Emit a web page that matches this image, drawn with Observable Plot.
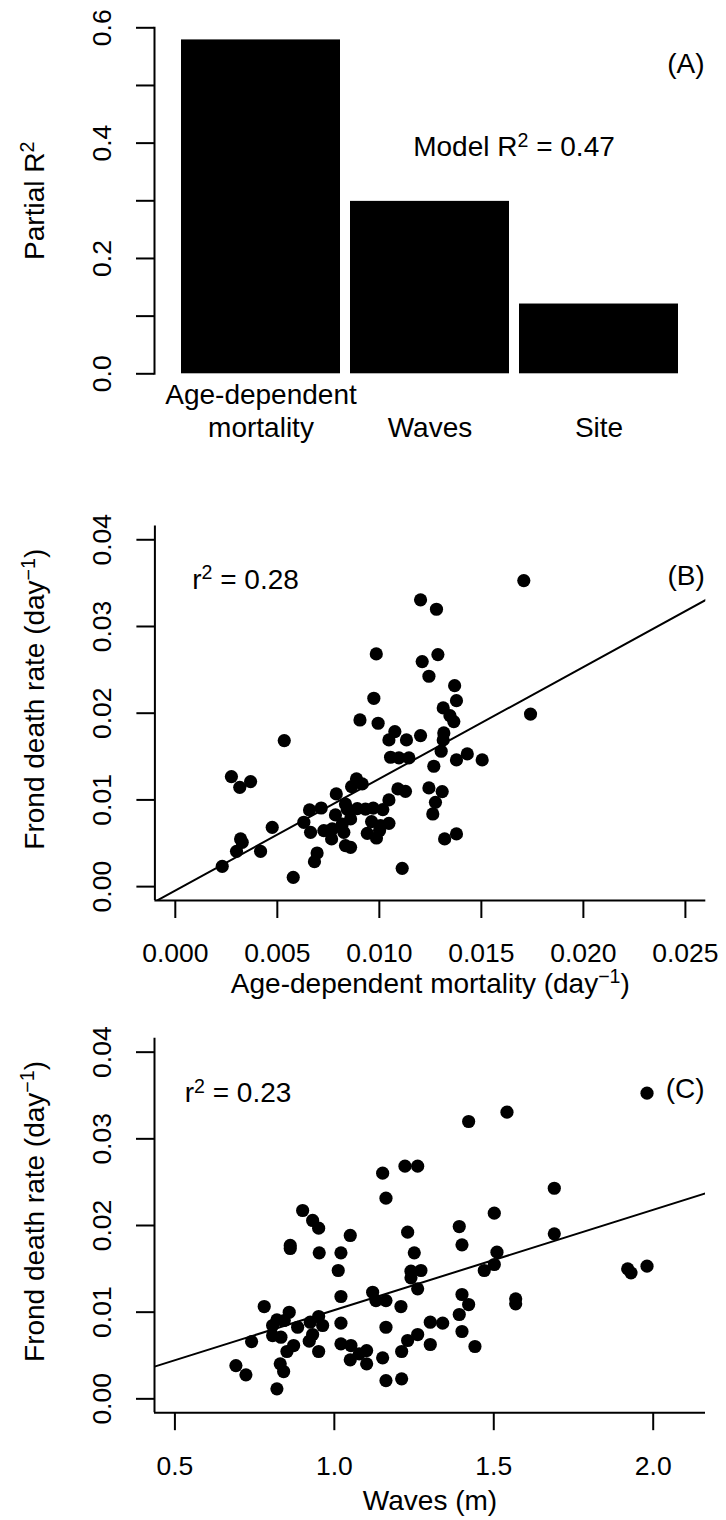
<!DOCTYPE html>
<html>
<head>
<meta charset="utf-8">
<script src="https://cdn.jsdelivr.net/npm/d3@7"></script>
<script src="https://cdn.jsdelivr.net/npm/@observablehq/plot@0.6"></script>
<style>
  body { margin: 0; background: #fff; }
  #chart svg { display: block; }
</style>
</head>
<body>
<div id="chart"></div>
<script>
// (A) partial R2 of each predictor
const predictors = ["Age-dependent\nmortality", "Waves", "Site"];
const partialR2 = [0.579, 0.299, 0.121];
const modelR2 = 0.47;
const ticksA = [0, 0.1, 0.2, 0.3, 0.4, 0.5, 0.6];

// (B) frond death rate vs age-dependent mortality
const ageMortality = [
  0.01202, 0.01280, 0.00985, 0.01210, 0.01287, 0.01243, 0.00973, 0.00905, 0.00994, 0.00534,
  0.01076, 0.01047, 0.01133, 0.01202, 0.01313, 0.01346, 0.01365, 0.01316, 0.01313, 0.01303,
  0.01055, 0.01096, 0.01145, 0.01267, 0.00275, 0.00316, 0.00369, 0.00888, 0.00864, 0.00916,
  0.01091, 0.01128, 0.01243, 0.01308, 0.01275, 0.01262, 0.01320, 0.01378, 0.00789, 0.01047,
  0.00658, 0.00715, 0.00834, 0.00843, 0.00892, 0.00932, 0.00970, 0.01017, 0.00785, 0.00859,
  0.00630, 0.00475, 0.00663, 0.00728, 0.00769, 0.00818, 0.00826, 0.00962, 0.01006, 0.01047,
  0.00941, 0.00986, 0.01001, 0.00766, 0.00320, 0.00328, 0.00300, 0.00418, 0.00834, 0.00859,
  0.00695, 0.00682, 0.00230, 0.00578, 0.01112, 0.01708, 0.01369, 0.01378, 0.01741, 0.01378,
  0.01431, 0.01504
];
const deathRateB = [
  0.03307, 0.03199, 0.02684, 0.02595, 0.02676, 0.02426, 0.02172, 0.01922, 0.01884, 0.01684,
  0.01788, 0.01692, 0.01692, 0.01742, 0.02061, 0.01972, 0.01903, 0.01773, 0.01692, 0.01561,
  0.01492, 0.01484, 0.01484, 0.01388, 0.01269, 0.01145, 0.01211, 0.01242, 0.01153, 0.01184,
  0.01127, 0.01099, 0.01138, 0.01096, 0.00972, 0.00838, 0.00550, 0.00608, 0.01069, 0.01000,
  0.00884, 0.00907, 0.00953, 0.00890, 0.00900, 0.00893, 0.00905, 0.00888, 0.00827, 0.00781,
  0.00742, 0.00684, 0.00626, 0.00646, 0.00665, 0.00722, 0.00626, 0.00750, 0.00704, 0.00730,
  0.00615, 0.00561, 0.00646, 0.00550, 0.00550, 0.00511, 0.00407, 0.00407, 0.00473, 0.00453,
  0.00388, 0.00288, 0.00234, 0.00107, 0.00211, 0.03529, 0.02318, 0.02145, 0.01990, 0.01461,
  0.01530, 0.01461
];
const fitB = [-0.00045, 1.289]; // intercept, slope
const r2B = 0.28;
const ticksBx = [0, 0.005, 0.01, 0.015, 0.02, 0.025];
const ticksRate = [0, 0.01, 0.02, 0.03, 0.04];

// (C) frond death rate vs waves
const waves = [
  1.1515, 1.2215, 1.2613, 1.1619, 0.9006, 0.9319, 0.9508, 1.0499, 1.2299, 0.8617,
  0.8617, 0.9526, 1.0207, 1.2507, 1.0122, 1.2403, 1.2716, 1.2403, 1.2613, 1.0207,
  1.1201, 1.1305, 1.1619, 1.2089, 0.7801, 0.8585, 0.8199, 0.8429, 0.8064, 0.8849,
  0.9244, 0.9508, 0.9633, 1.0207, 1.1619, 1.3009, 1.3397, 0.8064, 0.8325, 0.7405,
  0.9319, 0.9213, 0.8723, 0.8513, 0.9508, 1.0207, 1.0521, 1.1013, 1.0781, 1.0499,
  1.1013, 1.1515, 1.2111, 1.2299, 1.2613, 1.3009, 0.6913, 0.7227, 0.8303, 0.8410,
  0.8199, 1.1619, 1.2111, 1.9806, 1.5414, 1.4212, 1.6898, 1.5016, 1.3918, 1.4003,
  1.5100, 1.6898, 1.5016, 1.4702, 1.9200, 1.9304, 1.9806, 1.4003, 1.4212, 1.5687,
  1.5687, 1.3918, 1.4003, 1.4410
];
const deathRateC = [
  0.02604, 0.02685, 0.02685, 0.02315, 0.02173, 0.02058, 0.01969, 0.01885, 0.01923, 0.01770,
  0.01735, 0.01685, 0.01685, 0.01685, 0.01481, 0.01473, 0.01481, 0.01396, 0.01269, 0.01181,
  0.01230, 0.01134, 0.01134, 0.01065, 0.01065, 0.00999, 0.00912, 0.00904, 0.00846, 0.00826,
  0.00884, 0.00950, 0.00846, 0.00873, 0.00826, 0.00884, 0.00873, 0.00730, 0.00711, 0.00661,
  0.00742, 0.00665, 0.00615, 0.00546, 0.00546, 0.00635, 0.00615, 0.00557, 0.00519, 0.00450,
  0.00404, 0.00473, 0.00546, 0.00673, 0.00742, 0.00627, 0.00384, 0.00277, 0.00404, 0.00315,
  0.00115, 0.00211, 0.00231, 0.03527, 0.03308, 0.03200, 0.02430, 0.02142, 0.01988, 0.01777,
  0.01692, 0.01904, 0.01550, 0.01481, 0.01500, 0.01454, 0.01531, 0.01204, 0.01088, 0.01154,
  0.01096, 0.00973, 0.00777, 0.00604
];
const fitC = [-0.00133, 0.01157];
const r2C = 0.23;
const ticksCx = [0.5, 1.0, 1.5, 2.0];

// axis extents (R style: limits padded by 4%)
const domainBx = [-0.001, 0.026];
const domainCx = [0.436, 2.164];
const domainRate = [-0.0016, 0.0416];

const font = "'Liberation Sans', Arial, Helvetica, sans-serif";
const fs = 28;

// rotated y tick labels, like R
const yTicks = (ticks, fmt) => Plot.axisY(ticks, {
  tickSize: 18, tickPadding: 26, tickFormat: fmt, tickRotate: -90,
  textAnchor: "middle", lineAnchor: "bottom", fontSize: 26.5, strokeWidth: 2, label: null
});
const xTicks = (ticks, fmt) => Plot.axisX(ticks, {
  tickSize: 18, tickPadding: 25, tickFormat: fmt, fontSize: 26.5, strokeWidth: 2, label: null
});
const yLabel = (txt, dy) => Plot.text([txt], {
  text: d => d, frameAnchor: "left", rotate: -90, textAnchor: "middle",
  lineAnchor: "bottom", dx: -111, dy, fontSize: fs
});
const xLabel = (txt, dy) => Plot.text([txt], {
  text: d => d, frameAnchor: "bottom", textAnchor: "middle",
  lineAnchor: "bottom", dy, fontSize: fs
});
const tag = (txt, y) => Plot.text([txt], {
  text: d => d, y: () => y, frameAnchor: "right", textAnchor: "end", dx: -1, fontSize: fs
});

// turn "^{..}" into raised tspans
function raise(svg) {
  d3.select(svg).selectAll("text")
    .filter(function() { return this.textContent.includes("^{"); })
    .each(function() {
      const parts = this.textContent.split(/\^\{([^}]*)\}/);
      const el = d3.select(this).text(null);
      let up = false;
      parts.forEach((p, i) => {
        if (i % 2) {
          el.append("tspan").attr("font-size", fs * 0.7).attr("dy", -fs * 0.33).text(p);
          up = true;
        } else if (p) {
          const t = el.append("tspan").text(p);
          if (up) t.attr("dy", fs * 0.33);
          up = false;
        }
      });
    });
  return svg;
}

const tableA = predictors.map((name, i) => ({name, value: partialR2[i]}));
const tableB = ageMortality.map((x, i) => ({x, y: deathRateB[i]}));
const tableC = waves.map((x, i) => ({x, y: deathRateC[i]}));

let chartA = Plot.plot({
  width: 726, height: 460,
  marginTop: 27.3, marginBottom: 86.7, marginLeft: 154, marginRight: 21,
  style: {fontFamily: font, background: "white", overflow: "visible"},
  x: {type: "band", domain: predictors, paddingInner: 0.0588, paddingOuter: 0.153},
  y: {domain: [0, 0.6]},
  marks: [
    Plot.barY(tableA, {x: "name", y: "value", fill: "black"}),
    Plot.ruleY([0], {x2: () => "Site", insetLeft: -18, insetRight: 80, strokeWidth: 2}),
    Plot.frame({anchor: "left", strokeWidth: 2}),
    yTicks(ticksA, d => (Math.round(d * 10) % 2 ? "" : d.toFixed(1))),
    Plot.axisX({tickSize: 0, tickPadding: 63.4, lineAnchor: "bottom", lineHeight: 1.2, fontSize: fs, label: null}),
    yLabel("Partial R^{2}", 0),
    tag("(A)", 0.537),
    Plot.text([`Model R^{2} = ${modelR2}`], {text: d => d, x: () => "Waves", y: () => 0.393, dx: 84, fontSize: fs})
  ]
});

let chartB = Plot.plot({
  width: 726, height: 540,
  marginTop: 65.4, marginBottom: 100, marginLeft: 154.4, marginRight: 20.7,
  style: {fontFamily: font, background: "white", overflow: "visible"},
  x: {domain: domainBx},
  y: {domain: domainRate},
  marks: [
    Plot.ruleX([domainBx[0]], {strokeWidth: 2}),
    Plot.ruleY([domainRate[0]], {strokeWidth: 2}),
    xTicks(ticksBx, d3.format(".3f")),
    yTicks(ticksRate, d3.format(".2f")),
    Plot.dot(tableB, {x: "x", y: "y", r: 6.6, fill: "black"}),
    Plot.line(domainBx, {x: d => d, y: d => fitB[0] + fitB[1] * d, stroke: "black", strokeWidth: 2, clip: true}),
    xLabel("Age-dependent mortality (day^{\u22121})", 92),
    yLabel("Frond death rate (day^{\u22121})", -14),
    tag("(B)", 0.0358),
    Plot.text([`r^{2} = ${r2B}`], {text: d => d, x: () => 0.00344, y: () => 0.0354, fontSize: fs})
  ]
});

let chartC = Plot.plot({
  width: 726, height: 520,
  marginTop: 37.8, marginBottom: 107.8, marginLeft: 154, marginRight: 21,
  style: {fontFamily: font, background: "white", overflow: "visible"},
  x: {domain: domainCx},
  y: {domain: domainRate},
  marks: [
    Plot.ruleX([domainCx[0]], {strokeWidth: 2}),
    Plot.ruleY([domainRate[0]], {strokeWidth: 2}),
    xTicks(ticksCx, d3.format(".1f")),
    yTicks(ticksRate, d3.format(".2f")),
    Plot.dot(tableC, {x: "x", y: "y", r: 6.6, fill: "black"}),
    Plot.line(domainCx, {x: d => d, y: d => fitC[0] + fitC[1] * d, stroke: "black", strokeWidth: 2, clip: true}),
    xLabel("Waves (m)", 97),
    yLabel("Frond death rate (day^{\u22121})", -14),
    tag("(C)", 0.0358),
    Plot.text([`r^{2} = ${r2C}`], {text: d => d, x: () => 0.698, y: () => 0.0353, fontSize: fs})
  ]
});

const root = d3.select("#chart");
[chartA, chartB, chartC].forEach(c => root.append(() => raise(c)));
</script>
</body>
</html>
